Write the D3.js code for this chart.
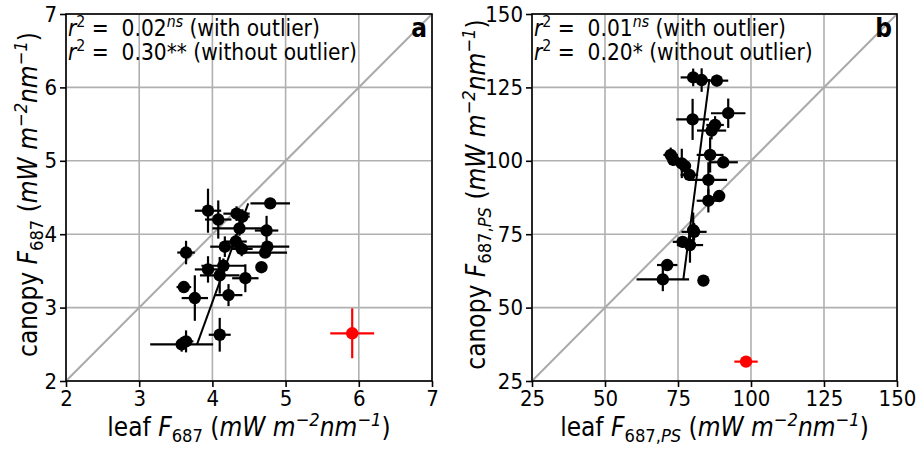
<!DOCTYPE html>
<html>
<head>
<meta charset="utf-8">
<script src="https://cdnjs.cloudflare.com/ajax/libs/d3/7.8.5/d3.min.js"></script>
<style>
  body { margin: 0; background: #fff; }
  text { font-family: "DejaVu Sans Condensed", "DejaVu Sans", sans-serif; font-stretch: condensed; white-space: pre; }
</style>
</head>
<body>
<div id="chart"></div>
<script>
const width = 921, height = 449;

// Panel a: leaf F687 vs canopy F687
const leafA    = [3.94, 4.08, 4.33, 4.41, 4.79, 4.37, 4.74, 3.64, 4.17, 4.32, 4.40, 4.75, 4.72, 4.67, 3.94, 4.15, 4.10, 4.45, 3.61, 3.76, 4.22, 4.10, 3.58, 3.64];
const canopyA  = [4.32, 4.20, 4.28, 4.24, 4.42, 4.08, 4.05, 3.75, 3.83, 3.90, 3.80, 3.83, 3.75, 3.55, 3.52, 3.57, 3.44, 3.40, 3.28, 3.13, 3.17, 2.63, 2.50, 2.54];
const leafErrA = [0.18, 0.18, 0.18, 0.10, 0.27, 0.37, 0.16, 0.12, 0.20, 0.15, 0.15, 0.30, 0.30, 0.00, 0.18, 0.30, 0.27, 0.18, 0.10, 0.18, 0.19, 0.15, 0.43, 0.10];
const canErrA  = [0.30, 0.26, 0.10, 0.10, 0.05, 0.10, 0.20, 0.16, 0.14, 0.10, 0.10, 0.05, 0.05, 0.00, 0.18, 0.10, 0.25, 0.19, 0.00, 0.31, 0.15, 0.23, 0.10, 0.15];
const outlierA = { leaf: 5.91, canopy: 2.65, leafErr: 0.30, canErr: 0.34 };
const fitA     = [[3.79, 2.50], [4.49, 4.42]];
const ticksA   = [2, 3, 4, 5, 6, 7];

// Panel b: leaf F687,PS vs canopy F687,PS
const leafB    = [80.2, 83.1, 88.3, 80.0, 92.2, 87.7, 86.5, 72.5, 73.4, 76.3, 77.4, 78.9, 86.0, 90.5, 85.4, 85.4, 89.1, 80.2, 80.5, 76.6, 79.1, 71.3, 69.8, 83.7];
const canopyB  = [128.4, 127.5, 127.3, 114.1, 116.2, 112.2, 110.3, 102.0, 100.3, 99.1, 98.2, 95.2, 102.0, 99.5, 93.5, 86.4, 88.0, 76.4, 75.8, 72.4, 71.3, 64.5, 59.6, 59.2];
const leafErrB = [4.3, 3.0, 3.9, 5.6, 5.9, 3.0, 5.0, 2.5, 2.0, 2.0, 2.0, 3.0, 4.6, 5.0, 6.4, 4.0, 2.0, 2.0, 4.3, 3.4, 4.5, 3.5, 9.0, 0.0];
const canErrB  = [3.0, 4.0, 2.0, 7.0, 5.0, 3.0, 3.0, 2.5, 2.0, 5.0, 2.0, 2.0, 6.0, 2.0, 6.0, 4.0, 2.0, 6.0, 3.0, 2.0, 6.0, 0.0, 4.0, 0.0];
const outlierB = { leaf: 98.3, canopy: 31.6, leafErr: 4.0, canErr: 1.0 };
const fitB     = [[76.8, 59.4], [85.7, 127.3]];
const ticksB   = [25, 50, 75, 100, 125, 150];

const svg = d3.select("#chart").append("svg")
    .attr("width", width).attr("height", height);

// rich text: segments [text, style] where style: "i" italic, "sup", "sub", "isup", "isub"
function richText(g, segs, size) {
    const t = g.append("text").attr("font-size", size);
    let shift = 0;
    segs.forEach(([s, st]) => {
        const sp = t.append("tspan").text(s);
        let target = 0;
        if (st && st.includes("sup")) { target = -0.38 * size; sp.attr("font-size", size * 0.7); }
        if (st && st.includes("sub")) { target = 0.22 * size; sp.attr("font-size", size * 0.7); }
        if (st && st.includes("i")) sp.attr("font-style", "italic");
        if (target !== shift) { sp.attr("dy", target - shift); shift = target; }
    });
    return t;
}

function drawPanel(opt) {
    const g = svg.append("g").attr("transform", `translate(${opt.left},${opt.top})`);
    const x = d3.scaleLinear().domain(opt.domain).range([0, opt.w]);
    const y = d3.scaleLinear().domain(opt.domain).range([opt.h, 0]);

    // grid
    g.append("g").selectAll("line").data(opt.ticks).join("line")
        .attr("x1", d => x(d)).attr("x2", d => x(d)).attr("y1", 0).attr("y2", opt.h)
        .attr("stroke", "#b0b0b0").attr("stroke-width", 1.6);
    g.append("g").selectAll("line").data(opt.ticks).join("line")
        .attr("y1", d => y(d)).attr("y2", d => y(d)).attr("x1", 0).attr("x2", opt.w)
        .attr("stroke", "#b0b0b0").attr("stroke-width", 1.6);

    // 1:1 line
    g.append("line")
        .attr("x1", x(opt.domain[0])).attr("y1", y(opt.domain[0]))
        .attr("x2", x(opt.domain[1])).attr("y2", y(opt.domain[1]))
        .attr("stroke", "#aaaaaa").attr("stroke-width", 2);

    // regression line
    g.append("line")
        .attr("x1", x(opt.fit[0][0])).attr("y1", y(opt.fit[0][1]))
        .attr("x2", x(opt.fit[1][0])).attr("y2", y(opt.fit[1][1]))
        .attr("stroke", "#000").attr("stroke-width", 2);

    const pts = opt.leaf.map((v, i) => ({ lx: v, cy: opt.canopy[i], ex: opt.leafErr[i], ey: opt.canErr[i] }));

    function marks(sel, color) {
        sel.append("line")
            .attr("x1", d => x(d.lx - d.ex)).attr("x2", d => x(d.lx + d.ex))
            .attr("y1", d => y(d.cy)).attr("y2", d => y(d.cy))
            .attr("stroke", color).attr("stroke-width", 2.2);
        sel.append("line")
            .attr("x1", d => x(d.lx)).attr("x2", d => x(d.lx))
            .attr("y1", d => y(d.cy - d.ey)).attr("y2", d => y(d.cy + d.ey))
            .attr("stroke", color).attr("stroke-width", 2.2);
        sel.append("circle")
            .attr("cx", d => x(d.lx)).attr("cy", d => y(d.cy))
            .attr("r", 6.2).attr("fill", color);
    }
    marks(g.append("g").selectAll("g").data(pts).join("g"), "#000");
    const o = opt.outlier;
    marks(g.append("g").selectAll("g")
        .data([{ lx: o.leaf, cy: o.canopy, ex: o.leafErr, ey: o.canErr }]).join("g"), "#ff0000");

    // frame
    g.append("rect").attr("width", opt.w).attr("height", opt.h)
        .attr("fill", "none").attr("stroke", "#000").attr("stroke-width", 1.6);

    // axes
    const ax = g.append("g").attr("transform", `translate(0,${opt.h})`)
        .call(d3.axisBottom(x).tickValues(opt.ticks).tickFormat(d3.format("d")).tickSize(6).tickPadding(3));
    const ay = g.append("g")
        .call(d3.axisLeft(y).tickValues(opt.ticks).tickFormat(d3.format("d")).tickSize(6).tickPadding(3));
    [ax, ay].forEach(a => {
        a.select(".domain").remove();
        a.selectAll(".tick line").attr("stroke", "#000").attr("stroke-width", 1.6);
        a.selectAll(".tick text").attr("font-size", 22).attr("fill", "#000");
        a.attr("font-family", null).attr("font-size", null);
    });

    // annotation
    const ann = g.append("g").attr("transform", "translate(2,22)");
    richText(ann, [["r", "i"], ["2", "sup"], [" =  " + opt.r1], [opt.s1, "isup"], [" (with outlier)"]], 22.5);
    const ann2 = g.append("g").attr("transform", "translate(2,46)");
    richText(ann2, [["r", "i"], ["2", "sup"], [" =  " + opt.r2 + opt.s2 + " (without outlier)"]], 22.5);

    g.append("text").attr("x", opt.w - 5).attr("y", 23)
        .attr("text-anchor", "end").attr("font-size", 26).attr("font-weight", "bold")
        .text(opt.letter);

    // axis labels
    const xl = g.append("g").attr("transform", `translate(${opt.w / 2},${opt.h + 55})`);
    richText(xl, opt.xlab, 26).attr("text-anchor", "middle");
    const yl = g.append("g").attr("transform", `translate(${opt.ylx},${opt.h / 2 - 3}) rotate(-90)`);
    richText(yl, opt.ylab, 26).attr("text-anchor", "middle");
}

const unitSegs = [[" ("], ["mW m", "i"], ["−2", "isup"], ["nm", "i"], ["−1", "isup"], [")"]];

drawPanel({
    left: 66, top: 14, w: 366, h: 367, domain: [2, 7], ticks: ticksA,
    leaf: leafA, canopy: canopyA, leafErr: leafErrA, canErr: canErrA,
    outlier: outlierA, fit: fitA, letter: "a",
    r1: "0.02", s1: "ns", r2: "0.30", s2: "**",
    xlab: [["leaf "], ["F", "i"], ["687", "sub"]].concat(unitSegs),
    ylab: [["canopy "], ["F", "i"], ["687", "sub"]].concat(unitSegs),
    ylx: -29
});

drawPanel({
    left: 532, top: 14, w: 365, h: 367, domain: [25, 150], ticks: ticksB,
    leaf: leafB, canopy: canopyB, leafErr: leafErrB, canErr: canErrB,
    outlier: outlierB, fit: fitB, letter: "b",
    r1: "0.01", s1: "ns", r2: "0.20", s2: "*",
    xlab: [["leaf "], ["F", "i"], ["687,", "sub"], ["PS", "isub"]].concat(unitSegs),
    ylab: [["canopy "], ["F", "i"], ["687,", "sub"], ["PS", "isub"]].concat(unitSegs),
    ylx: -47
});
</script>
</body>
</html>
